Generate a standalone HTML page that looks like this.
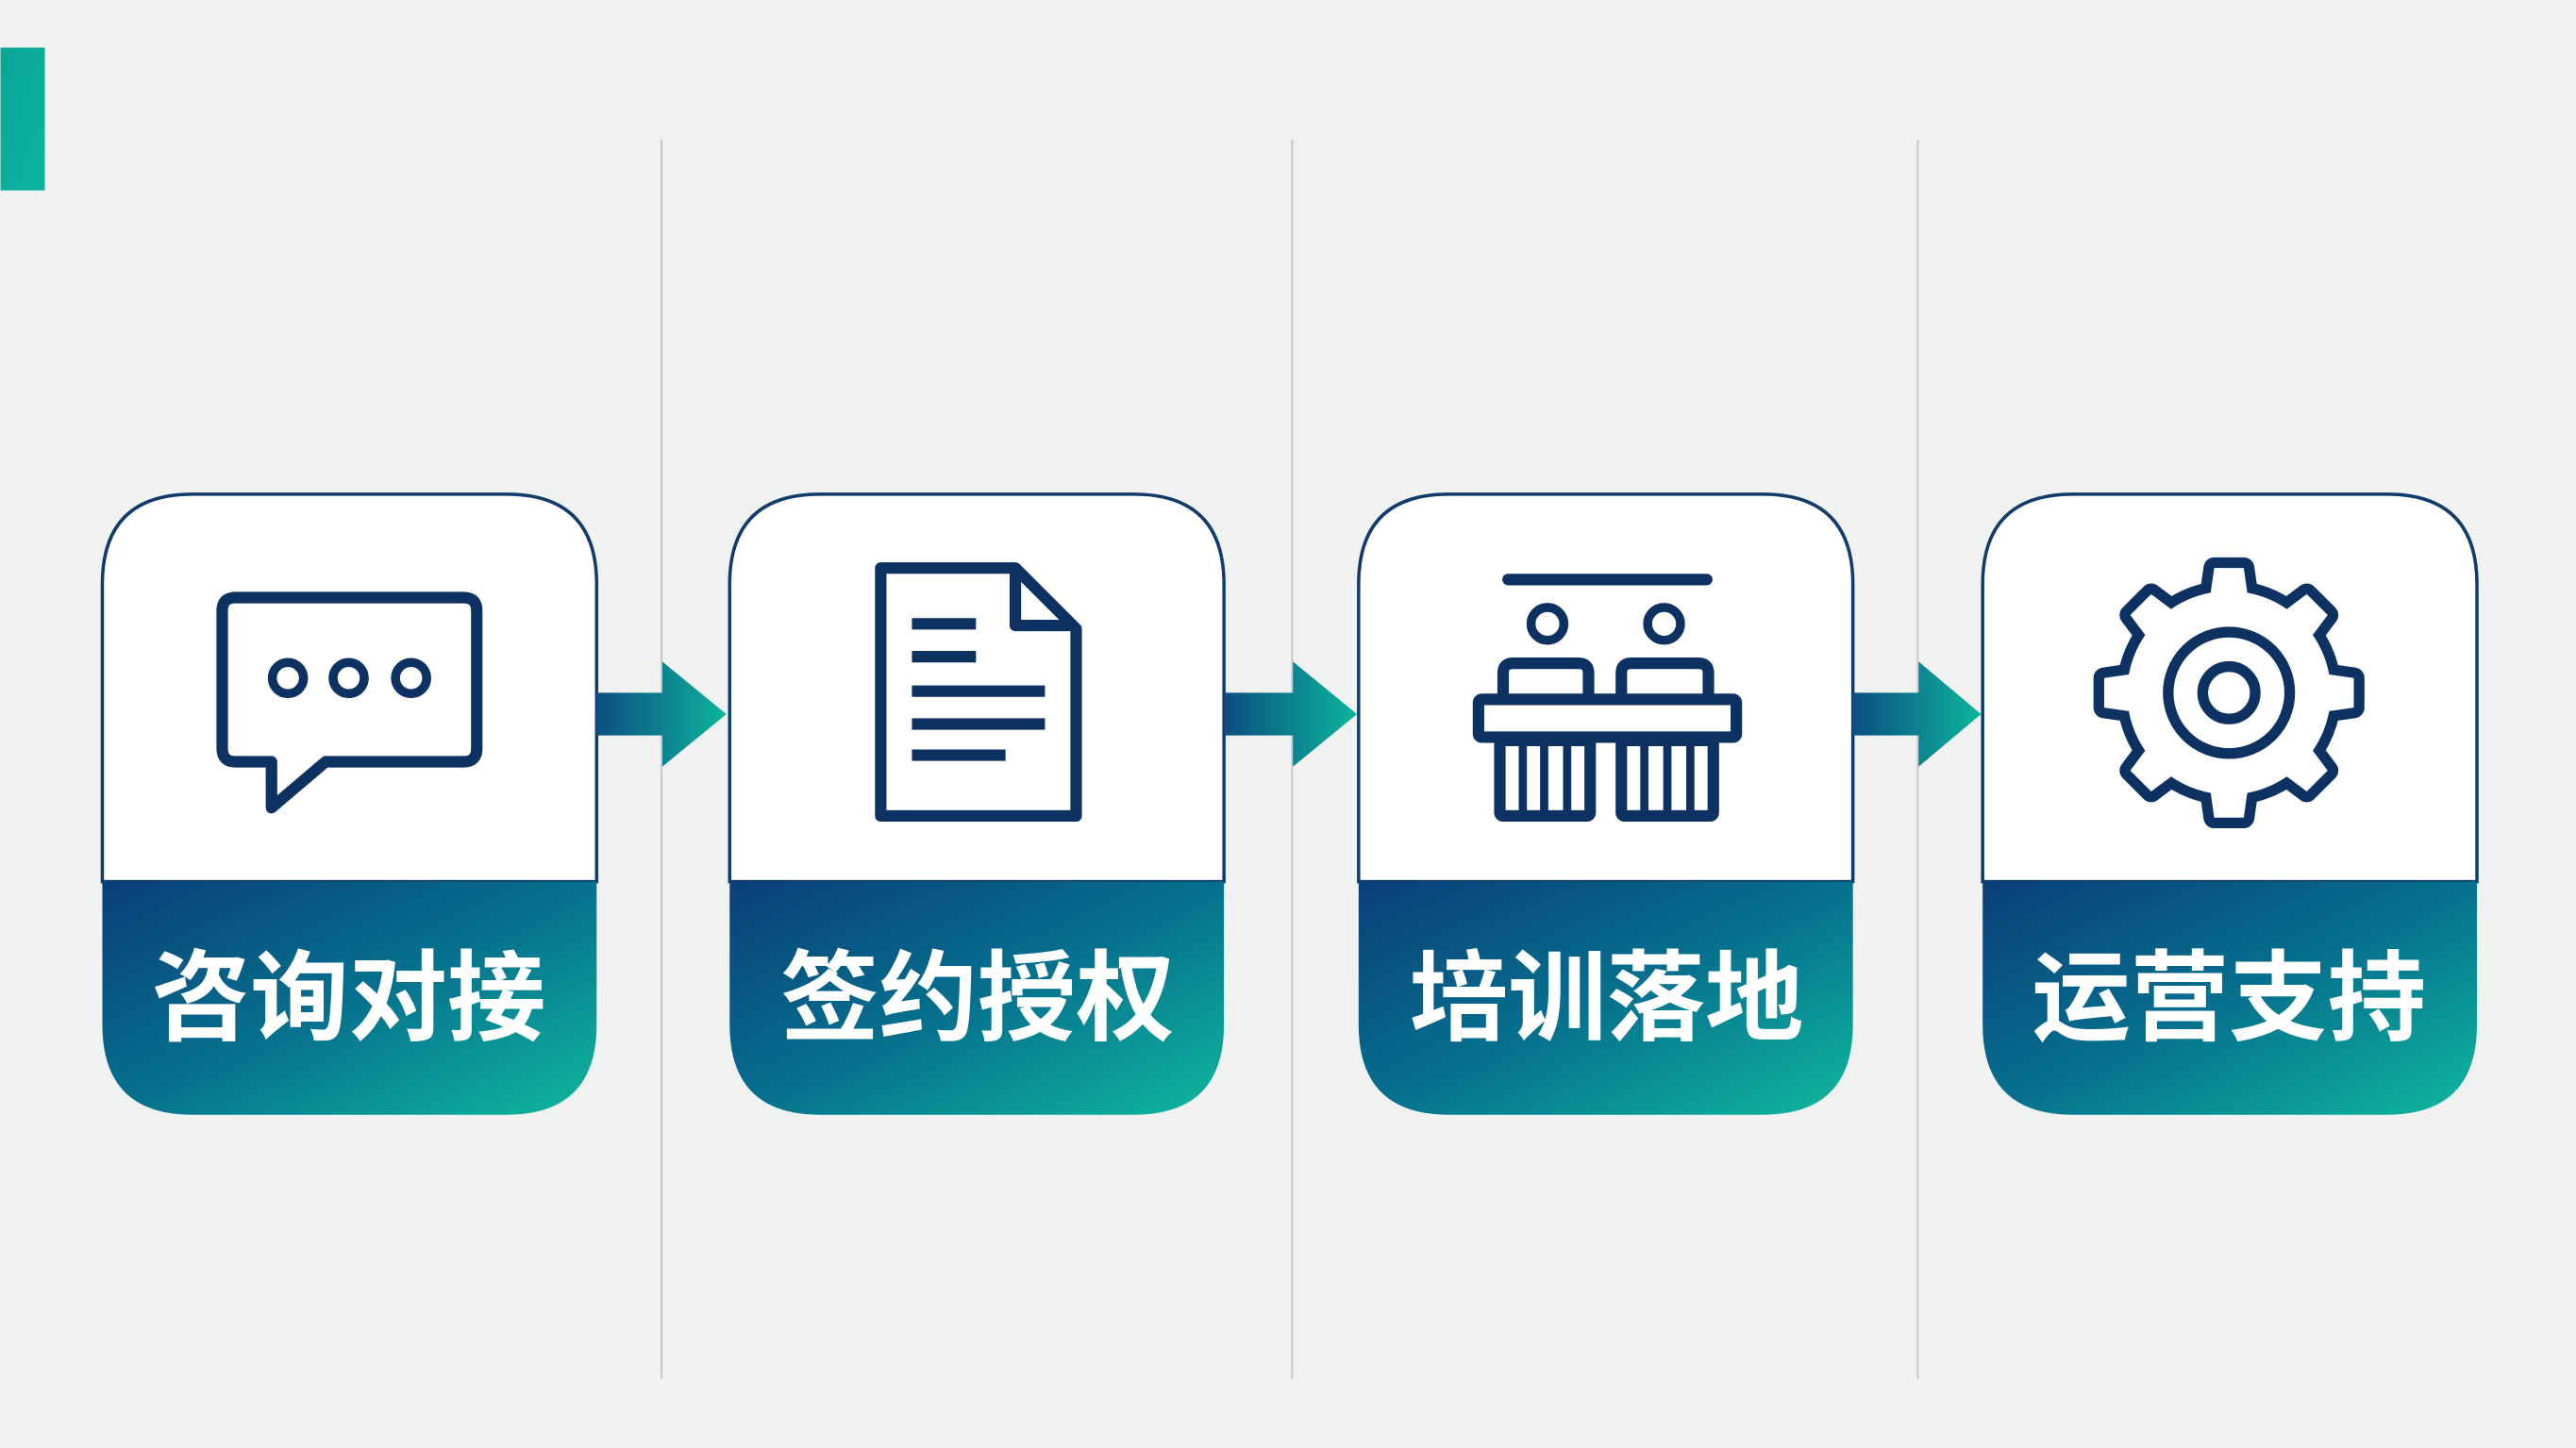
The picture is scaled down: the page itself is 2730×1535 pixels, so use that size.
<!DOCTYPE html>
<html><head><meta charset="utf-8"><style>
html,body{margin:0;padding:0;background:#f0f1f1;}
svg{display:block}
text{font-family:"Liberation Sans","Noto Sans CJK SC",sans-serif;font-weight:bold;fill:#fff}
</style></head><body>
<svg width="2730" height="1535" viewBox="0 0 1568 882" xmlns="http://www.w3.org/2000/svg">
<defs>
<linearGradient id="g" x1="0" y1="0" x2="1" y2="1">
<stop offset="0" stop-color="#0a3f78"/><stop offset="0.5" stop-color="#06708e"/><stop offset="1" stop-color="#0fb89d"/></linearGradient>
<linearGradient id="tb" x1="0" y1="0" x2="1" y2="1"><stop offset="0" stop-color="#0aa596"/><stop offset="1" stop-color="#0cb59f"/></linearGradient>
<linearGradient id="ar" x1="0" y1="0" x2="1" y2="0"><stop offset="0" stop-color="#0b4f80"/><stop offset="1" stop-color="#0db59c"/></linearGradient>
<g id="card">
<path d="M0,537 V356 Q0,301 55,301 H246 Q301,301 301,356 V537 Z" fill="#fff" stroke="#103b6b" stroke-width="2"/>
<path d="M0,537 H301 V624 Q301,679 246,679 H55 Q0,679 0,624 Z" fill="url(#g)"/>
</g>
</defs>
<rect width="1568" height="882" fill="#f0f1f1"/>
<rect x="0" y="29" width="27" height="87" fill="url(#tb)"/>
<g stroke="#c9caca" stroke-width="1.2">
<line x1="402.5" y1="85" x2="402.5" y2="840"/><line x1="786.5" y1="85" x2="786.5" y2="840"/><line x1="1167.5" y1="85" x2="1167.5" y2="840"/>
</g>
<use href="#card" x="62"/><use href="#card" x="444"/><use href="#card" x="827"/><use href="#card" x="1207"/>
<g fill="url(#ar)">
<path d="M363,422 H403 V403 L442,435 L403,467 V448 H363 Z"/>
<path d="M746,422 H787 V403 L826,435 L787,467 V448 H746 Z"/>
<path d="M1128,422 H1168 V403 L1206,435 L1168,467 V448 H1128 Z"/>
</g>
<g font-size="60" text-anchor="middle">
<text x="212" y="629">咨询对接</text>
<text x="595" y="629">签约授权</text>
<text x="978" y="629">培训落地</text>
<text x="1357" y="629">运营支持</text>
</g>
<g fill="none" stroke="#0d3262" stroke-width="7" stroke-linejoin="round">
<path d="M143,364 H282 Q290,364 290,372 V456 Q290,464 282,464 H198 L165,492 V464 H143 Q135,464 135,456 V372 Q135,364 143,364Z"/>
<circle cx="175" cy="413" r="9.5" stroke-width="5.5"/><circle cx="212" cy="413" r="9.5" stroke-width="5.5"/><circle cx="250" cy="413" r="9.5" stroke-width="5.5"/>
<path d="M536,346 H618 L655,383 V497 H536 Z"/>
<path d="M618,348 V381 H653"/>
<g stroke-width="7">
<line x1="555" y1="380" x2="594" y2="380"/><line x1="555" y1="400" x2="594" y2="400"/>
<line x1="555" y1="421" x2="636" y2="421"/><line x1="555" y1="441" x2="636" y2="441"/><line x1="555" y1="460" x2="612" y2="460"/>
</g>
<line x1="918" y1="353" x2="1039" y2="353" stroke-linecap="round"/>
<circle cx="942" cy="380" r="10" stroke-width="5.5"/><circle cx="1013" cy="380" r="10" stroke-width="5.5"/>
<path d="M915,426 V410 Q915,404 921,404 H961 Q967,404 967,410 V426"/>
<path d="M987,426 V410 Q987,404 993,404 H1034 Q1040,404 1040,410 V426"/>
<rect x="900" y="426" width="157" height="23" rx="2"/>
<rect x="913" y="451" width="55" height="46" rx="2"/>
<rect x="987" y="451" width="56" height="46" rx="2"/>
<line x1="927" y1="452" x2="927" y2="496" stroke-width="5"/><line x1="940" y1="452" x2="940" y2="496" stroke-width="5"/><line x1="954" y1="452" x2="954" y2="496" stroke-width="5"/>
<line x1="1001" y1="452" x2="1001" y2="496" stroke-width="5"/><line x1="1015" y1="452" x2="1015" y2="496" stroke-width="5"/><line x1="1029" y1="452" x2="1029" y2="496" stroke-width="5"/>
</g>
<g transform="translate(1357,422)">
<g stroke="#0d3262" stroke-width="13" stroke-linejoin="round" fill="#0d3262">
<circle r="62"/>
<g id="teeth"><path d="M-9,-76 L9,-76 L12,-55 L-12,-55 Z"/></g>
<use href="#teeth" transform="rotate(45)"/><use href="#teeth" transform="rotate(90)"/><use href="#teeth" transform="rotate(135)"/><use href="#teeth" transform="rotate(180)"/><use href="#teeth" transform="rotate(225)"/><use href="#teeth" transform="rotate(270)"/><use href="#teeth" transform="rotate(315)"/>
</g>
<g fill="#fff">
<circle r="62"/>
<g id="teeth2"><path d="M-9,-76 L9,-76 L12,-55 L-12,-55 Z"/></g>
<use href="#teeth2" transform="rotate(45)"/><use href="#teeth2" transform="rotate(90)"/><use href="#teeth2" transform="rotate(135)"/><use href="#teeth2" transform="rotate(180)"/><use href="#teeth2" transform="rotate(225)"/><use href="#teeth2" transform="rotate(270)"/><use href="#teeth2" transform="rotate(315)"/>
</g>
<circle r="37" fill="none" stroke="#0d3262" stroke-width="6.5"/>
<circle r="16" fill="none" stroke="#0d3262" stroke-width="6.5"/>
</g>
</svg>
</body></html>
